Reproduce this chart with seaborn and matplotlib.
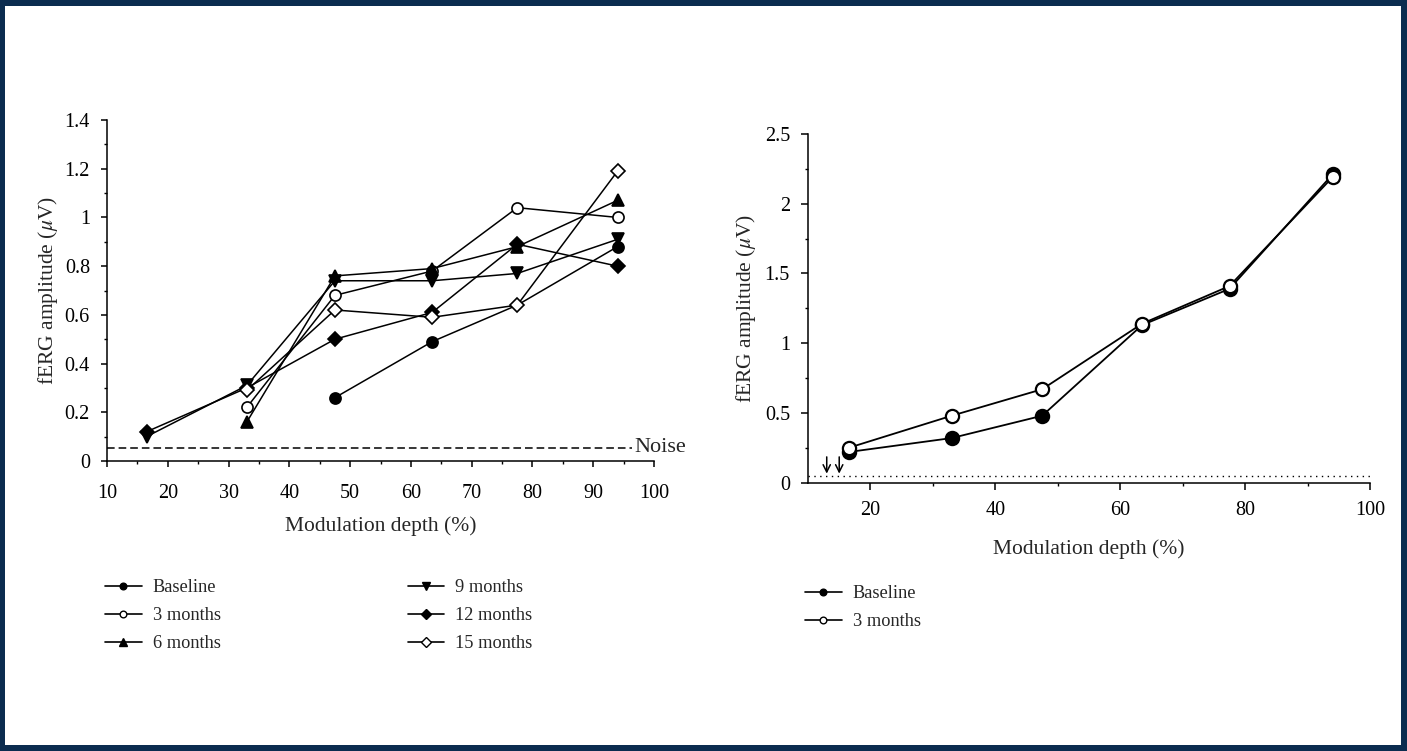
import numpy as np
import pandas as pd
import matplotlib
matplotlib.use("Agg")
import matplotlib.pyplot as plt
import seaborn as sns
from matplotlib.patches import Rectangle
from matplotlib.lines import Line2D
from matplotlib.ticker import MultipleLocator, FixedLocator

nan = np.nan
# ---- left panel data ----
depth = [16.5, 33, 47.5, 63.5, 77.5, 94]
baseline = [nan, nan, 0.26, 0.49, 0.64, 0.88]
months3 = [nan, 0.22, 0.68, 0.78, 1.04, 1.00]
months6 = [nan, 0.16, 0.76, 0.79, 0.88, 1.07]
months9 = [0.10, 0.31, 0.74, 0.74, 0.77, 0.91]
months12 = [0.12, 0.30, 0.50, 0.61, 0.89, 0.80]
months15 = [nan, 0.29, 0.62, 0.59, 0.64, 1.19]
noise_level = 0.055
left_labels = ["Baseline", "3 months", "6 months", "9 months", "12 months", "15 months"]

# ---- right panel data ----
right_depth = [16.5, 33, 47.5, 63.5, 77.5, 94]
right_baseline = [0.22, 0.32, 0.48, 1.13, 1.39, 2.21]
right_months3 = [0.25, 0.48, 0.67, 1.14, 1.41, 2.19]
right_noise = 0.05
arrow_x = [13.0, 15.0]
right_labels = ["Baseline", "3 months"]

sns.set_style("ticks")
plt.rcParams["font.family"] = ["Liberation Serif", "DejaVu Serif"]
plt.rcParams["mathtext.fontset"] = "stix"

TICK_FS = 14.5
LABEL_FS = 15.5
LEG_FS = 13.2
fig = plt.figure(figsize=(14.07, 7.51), dpi=100)
fig.patch.set_facecolor("#0b2c4f")
fig.patches.append(Rectangle((5 / 1407, 6 / 751), 1 - 11 / 1407, 1 - 12 / 751,
                             transform=fig.transFigure, facecolor="white",
                             edgecolor="none", zorder=-5))

axL = fig.add_axes([107 / 1407, 1 - 461 / 751, (654 - 107) / 1407, (461 - 120) / 751])
axR = fig.add_axes([808 / 1407, 1 - 482.7 / 751, (1370 - 808) / 1407, (482.7 - 134) / 751])

styles = [
    dict(marker="o", mfc="black", ms=8),
    dict(marker="o", mfc="white", ms=8),
    dict(marker="^", mfc="black", ms=8.5),
    dict(marker="v", mfc="black", ms=8.5),
    dict(marker="D", mfc="black", ms=7.2),
    dict(marker="D", mfc="white", ms=7.2),
]
series = [baseline, months3, months6, months9, months12, months15]

for vals, lab, st in zip(series, left_labels, styles):
    df = pd.DataFrame({"depth": depth, "amp": vals}).dropna()
    kw = {}
    if lab == "Baseline":
        kw["markevery"] = [0, 1, 3]
    sns.lineplot(data=df, x="depth", y="amp", ax=axL, color="black", linewidth=1.1,
                 marker=st["marker"], markersize=st["ms"], markerfacecolor=st["mfc"],
                 markeredgecolor="black", markeredgewidth=1.2, estimator=None,
                 sort=False, legend=False, **kw)

axL.plot([10, 96.3], [noise_level, noise_level], color="black", lw=1.1,
         linestyle=(0, (5, 2.6)))
axL.text(96.7, noise_level, "Noise", ha="left", va="center", fontsize=LABEL_FS + 0.5,
         clip_on=False)

axL.set_xlim(10, 100)
axL.set_ylim(0, 1.4)
axL.xaxis.set_major_locator(MultipleLocator(10))
axL.xaxis.set_minor_locator(MultipleLocator(5))
axL.set_yticks([0, 0.2, 0.4, 0.6, 0.8, 1.0, 1.2, 1.4])
axL.yaxis.set_minor_locator(MultipleLocator(0.1))
axL.set_yticklabels(["0", "0.2", "0.4", "0.6", "0.8", "1", "1.2", "1.4"])
axL.set_xlabel("Modulation depth (%)", fontsize=LABEL_FS, labelpad=10)
axL.set_ylabel(r"fERG amplitude ($\mu$V)", fontsize=LABEL_FS, labelpad=3)

# right panel
for vals, lab, st in zip([right_baseline, right_months3], right_labels, styles[:2]):
    df = pd.DataFrame({"depth": right_depth, "amp": vals})
    sns.lineplot(data=df, x="depth", y="amp", ax=axR, color="black", linewidth=1.3,
                 marker="o", markersize=9.5, markerfacecolor=st["mfc"],
                 markeredgecolor="black", markeredgewidth=1.6, estimator=None,
                 sort=False, legend=False)
axR.plot([10, 100], [right_noise, right_noise], color="black", lw=1.0,
         linestyle=(0, (1, 3.2)))
for xa in arrow_x:
    axR.annotate("", xy=(xa, right_noise + 0.015), xytext=(xa, right_noise + 0.135),
                 arrowprops=dict(arrowstyle="->", color="black", lw=1.1,
                                 shrinkA=0, shrinkB=0, mutation_scale=13))

axR.set_xlim(10, 100)
axR.set_ylim(0, 2.5)
axR.xaxis.set_major_locator(FixedLocator([20, 40, 60, 80, 100]))
axR.xaxis.set_minor_locator(FixedLocator([30, 50, 70, 90]))
axR.set_yticks([0, 0.5, 1.0, 1.5, 2.0, 2.5])
axR.yaxis.set_minor_locator(MultipleLocator(0.25))
axR.set_yticklabels(["0", "0.5", "1", "1.5", "2", "2.5"])
axR.set_xlabel("Modulation depth (%)", fontsize=LABEL_FS, labelpad=14)
axR.set_ylabel(r"fERG amplitude ($\mu$V)", fontsize=LABEL_FS, labelpad=5)

for ax, maj, mnr, xpad in [(axL, 6, 3, 12), (axR, 7, 3.5, 8)]:
    sns.despine(ax=ax)
    ax.set_facecolor("none")
    for sp in ["left", "bottom"]:
        ax.spines[sp].set_linewidth(1.1)
        ax.spines[sp].set_color("black")
    ax.tick_params(which="major", direction="out", length=maj / 1.39, width=1.1,
                   labelsize=TICK_FS, colors="black")
    ax.tick_params(which="minor", direction="out", length=mnr / 1.39, width=1.0,
                   colors="black")
    ax.tick_params(axis="x", which="major", pad=xpad)
    ax.tick_params(axis="y", which="major", pad=8)

def handles(sty):
    out = []
    for s in sty:
        scale = 0.6 if s["marker"] != "D" else 0.75
        out.append(Line2D([0], [0], color="black", lw=1.2, marker=s["marker"],
                          markersize=s["ms"] * scale, markerfacecolor=s["mfc"],
                          markeredgecolor="black", markeredgewidth=1.0))
    return out

fig.legend(handles(styles), left_labels, loc="upper left",
           bbox_to_anchor=(105 / 1407, 1 - 579 / 751), ncol=2, frameon=False,
           fontsize=LEG_FS, borderpad=0, borderaxespad=0, handlelength=2.0,
           handletextpad=0.6, columnspacing=10.2, labelspacing=0.6)
fig.legend(handles(styles[:2]), right_labels, loc="upper left",
           bbox_to_anchor=(805 / 1407, 1 - 585 / 751), ncol=1, frameon=False,
           fontsize=LEG_FS, borderpad=0, borderaxespad=0, handlelength=2.0,
           handletextpad=0.6, labelspacing=0.6)

fig.savefig("out.png", dpi=100, facecolor=fig.get_facecolor())
